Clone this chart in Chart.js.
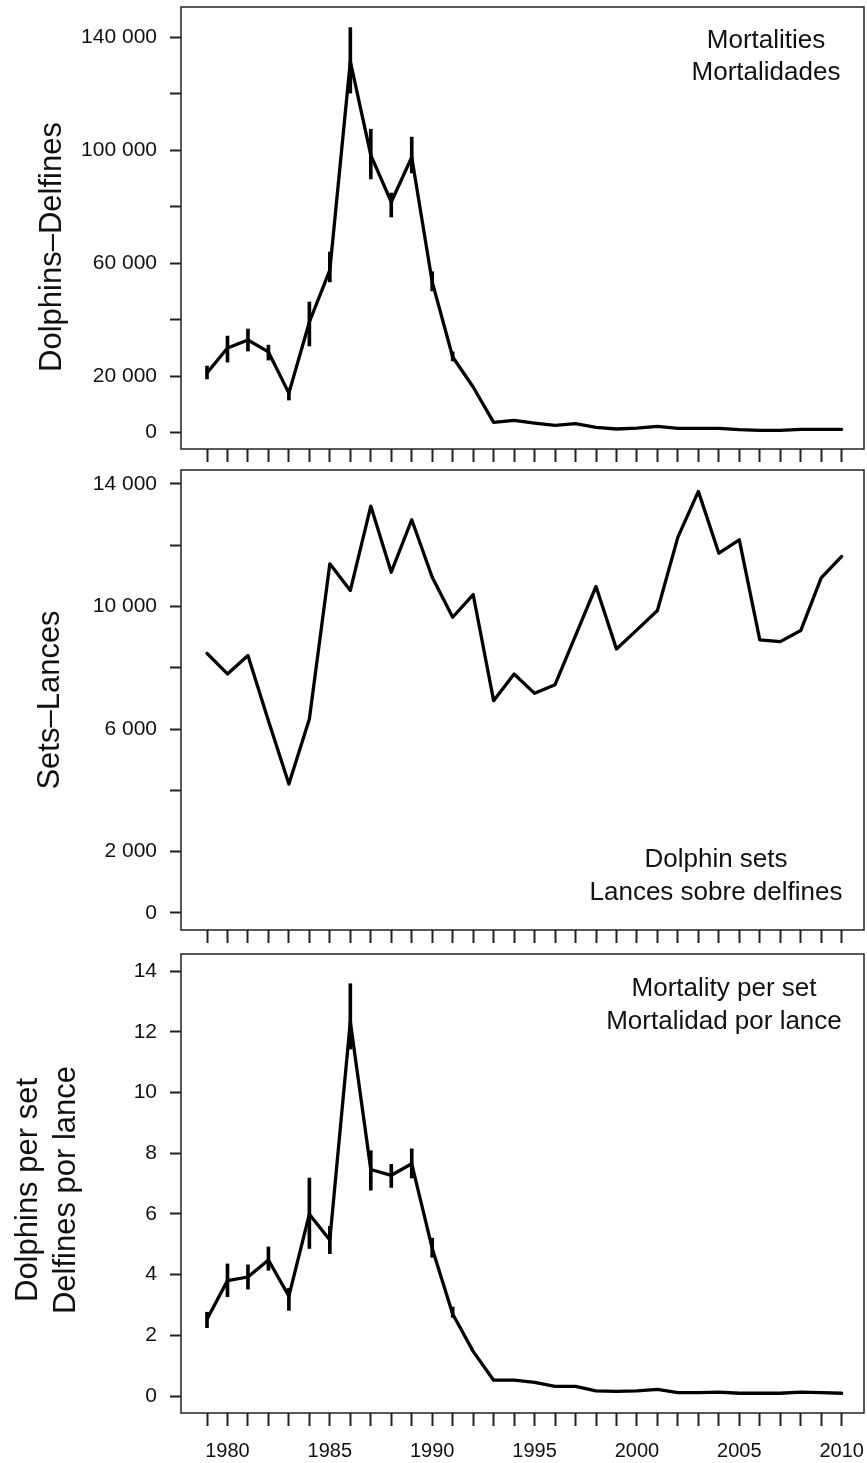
<!DOCTYPE html>
<html>
<head>
<meta charset="utf-8">
<script src="https://cdn.jsdelivr.net/npm/chart.js@4.4.1/dist/chart.umd.min.js"></script>
<style>
  html, body { margin: 0; padding: 0; background: #fff; }
  .wrap { position: relative; width: 867px; height: 1463px; }
  .wrap canvas { position: absolute; left: 0; }
</style>
</head>
<body>
<div class="wrap">
  <canvas id="mortChart" width="867" height="462" style="top:0px"></canvas>
  <canvas id="setsChart" width="867" height="481" style="top:462px"></canvas>
  <canvas id="rateChart" width="867" height="520" style="top:943px"></canvas>
</div>
<script>
// Years on the x axis (one tick per year, labels every 5)
const years = [1979, 1980, 1981, 1982, 1983, 1984, 1985, 1986, 1987, 1988, 1989, 1990,
    1991, 1992, 1993, 1994, 1995, 1996, 1997, 1998, 1999, 2000, 2001, 2002,
    2003, 2004, 2005, 2006, 2007, 2008, 2009, 2010];
const yearLabels = [1980, 1985, 1990, 1995, 2000, 2005, 2010];

// Dolphin mortalities
const mortalities = [21100, 30000, 32800, 28600, 14000, 39200, 57600, 131500, 98300, 81700, 97600, 53400,
    26800, 16150, 3650, 4350, 3400, 2580, 3160, 1870, 1280, 1630, 2200, 1520,
    1520, 1520, 1030, 800, 800, 1160, 1160, 1160];
const mortErrYears = [1979, 1980, 1981, 1982, 1983, 1984, 1985, 1986, 1987, 1988, 1989, 1990, 1991];
const mortErrLow = [19000, 25000, 28900, 25700, 11550, 30700, 53400, 120300, 89900, 76400, 92000, 50200, 25400];
const mortErrHigh = [23600, 34200, 36700, 31000, 15800, 46300, 64000, 143500, 107500, 84900, 104700, 57000, 28600];
const mortTicks = [0, 20000, 40000, 60000, 80000, 100000, 120000, 140000];
const mortTickLabels = [0, 20000, 60000, 100000, 140000];

// Sets on dolphins
const dolphinSets = [8474, 7800, 8399, 6275, 4205, 6330, 11395, 10523, 13278, 11121, 12833, 10958,
    9651, 10392, 6928, 7800, 7167, 7451, 9052, 10654, 8617, 9238, 9869, 12265,
    13758, 11742, 12178, 8912, 8856, 9216, 10938, 11634];
const setsTicks = [0, 2000, 4000, 6000, 8000, 10000, 12000, 14000];
const setsTickLabels = [0, 2000, 6000, 10000, 14000];

// Mortality per set
const perSet = [2.53, 3.80, 3.92, 4.48, 3.29, 5.99, 5.14, 12.33, 7.46, 7.27, 7.65, 4.86,
    2.70, 1.47, 0.52, 0.52, 0.45, 0.32, 0.32, 0.17, 0.15, 0.17, 0.22, 0.11,
    0.11, 0.13, 0.09, 0.09, 0.09, 0.13, 0.11, 0.09];
const perSetErrYears = [1979, 1980, 1981, 1982, 1983, 1984, 1985, 1986, 1987, 1988, 1989, 1990, 1991];
const perSetErrLow = [2.25, 3.27, 3.52, 4.14, 2.82, 4.86, 4.69, 11.43, 6.78, 6.87, 7.18, 4.57, 2.59];
const perSetErrHigh = [2.76, 4.35, 4.32, 4.91, 3.55, 7.18, 5.59, 13.58, 8.08, 7.63, 8.14, 5.20, 2.93];
const perSetTicks = [0, 2, 4, 6, 8, 10, 12, 14];

const FONT = '"Liberation Sans", Arial, Helvetica, sans-serif';
const INK = '#111';

Chart.defaults.font.family = FONT;
Chart.defaults.color = INK;

// "140 000" style thousands
function spaced(v) {
    return String(v).replace(/\B(?=(\d{3})+(?!\d))/g, ' ');
}

// Frame around the plot area, rotated axis title and corner note
const panelDecor = {
    id: 'panelDecor',
    afterDraw(chart, args, opts) {
        const { ctx, chartArea: a } = chart;
        ctx.save();
        ctx.strokeStyle = '#222';
        ctx.lineWidth = 1.5;
        ctx.strokeRect(a.left, a.top, a.right - a.left, a.bottom - a.top);

        ctx.fillStyle = INK;
        ctx.textAlign = 'center';
        ctx.textBaseline = 'alphabetic';
        ctx.font = '26px ' + FONT;
        opts.note.forEach((line, i) => ctx.fillText(line, opts.noteX, opts.noteY + i * opts.noteGap));

        ctx.translate(opts.titleX, opts.titleY);
        ctx.rotate(-Math.PI / 2);
        ctx.font = '31px ' + FONT;
        ctx.textBaseline = 'middle';
        const n = opts.title.length;
        opts.title.forEach((line, i) => ctx.fillText(line, 0, (i - (n - 1) / 2) * 38));
        ctx.restore();
    }
};

function buildPanel(id, cfg) {
    const lineData = years.map((y, i) => ({ x: y, y: cfg.values[i] }));
    const datasets = [{
        type: 'line',
        data: lineData,
        borderColor: '#000',
        borderWidth: 3.3,
        borderJoinStyle: 'round',
        borderCapStyle: 'round',
        pointRadius: 0,
        tension: 0,
        fill: false
    }];
    if (cfg.errYears) {
        // vertical error bars as floating bars
        datasets.push({
            type: 'bar',
            data: cfg.errYears.map((y, i) => ({ x: y, y: [cfg.errLow[i], cfg.errHigh[i]] })),
            backgroundColor: '#000',
            borderWidth: 0,
            barThickness: 3
        });
    }

    new Chart(document.getElementById(id), {
        type: 'line',
        data: { datasets },
        options: {
            responsive: false,
            animation: false,
            events: [],
            layout: { padding: { top: cfg.padTop, right: 3, left: 0, bottom: 0 } },
            plugins: {
                legend: { display: false },
                tooltip: { enabled: false },
                panelDecor: cfg.decor
            },
            scales: {
                x: {
                    type: 'linear',
                    min: 1977.73,
                    max: 2011.09,
                    offset: false,
                    afterBuildTicks: s => { s.ticks = years.map(v => ({ value: v })); },
                    afterFit: s => { s.height = cfg.xAxisHeight; s.paddingLeft = 0; s.paddingRight = 0; },
                    grid: { drawOnChartArea: false, offset: false, tickLength: 13, tickWidth: 2, tickColor: '#222' },
                    border: { display: false },
                    ticks: {
                        autoSkip: false,
                        maxRotation: 0,
                        padding: 13,
                        font: { size: 20 },
                        callback: v => (cfg.showYears && yearLabels.includes(v)) ? String(v) : ''
                    }
                },
                y: {
                    min: cfg.yMin,
                    max: cfg.yMax,
                    afterBuildTicks: s => { s.ticks = cfg.yTicks.map(v => ({ value: v })); },
                    afterFit: s => { s.width = 181; s.paddingTop = 0; s.paddingBottom = 0; },
                    grid: { drawOnChartArea: false, tickLength: 11, tickWidth: 2, tickColor: '#222' },
                    border: { display: false },
                    ticks: {
                        autoSkip: false,
                        padding: 13,
                        font: { size: 21 },
                        callback: v => cfg.yLabels.includes(v) ? spaced(v) : ''
                    }
                }
            }
        },
        plugins: [panelDecor]
    });
}

document.addEventListener('DOMContentLoaded', () => {
    buildPanel('mortChart', {
        values: mortalities,
        errYears: mortErrYears, errLow: mortErrLow, errHigh: mortErrHigh,
        yMin: -5800, yMax: 150800,
        yTicks: mortTicks, yLabels: mortTickLabels,
        padTop: 7, xAxisHeight: 13, showYears: false,
        decor: {
            note: ['Mortalities', 'Mortalidades'], noteX: 766, noteY: 48, noteGap: 32,
            title: ['Dolphins\u2013Delfines'], titleX: 52, titleY: 247
        }
    });

    buildPanel('setsChart', {
        values: dolphinSets,
        yMin: -556, yMax: 14456,
        yTicks: setsTicks, yLabels: setsTickLabels,
        padTop: 8, xAxisHeight: 13, showYears: false,
        decor: {
            note: ['Dolphin sets', 'Lances sobre delfines'], noteX: 716, noteY: 405, noteGap: 33,
            title: ['Sets\u2013Lances'], titleX: 50, titleY: 238
        }
    });

    buildPanel('rateChart', {
        values: perSet,
        errYears: perSetErrYears, errLow: perSetErrLow, errHigh: perSetErrHigh,
        yMin: -0.56, yMax: 14.56,
        yTicks: perSetTicks, yLabels: perSetTicks,
        padTop: 11, xAxisHeight: 50, showYears: true,
        decor: {
            note: ['Mortality per set', 'Mortalidad por lance'], noteX: 724, noteY: 53, noteGap: 33,
            title: ['Dolphins per set', 'Delfines por lance'], titleX: 47, titleY: 247
        }
    });
});
</script>
</body>
</html>
